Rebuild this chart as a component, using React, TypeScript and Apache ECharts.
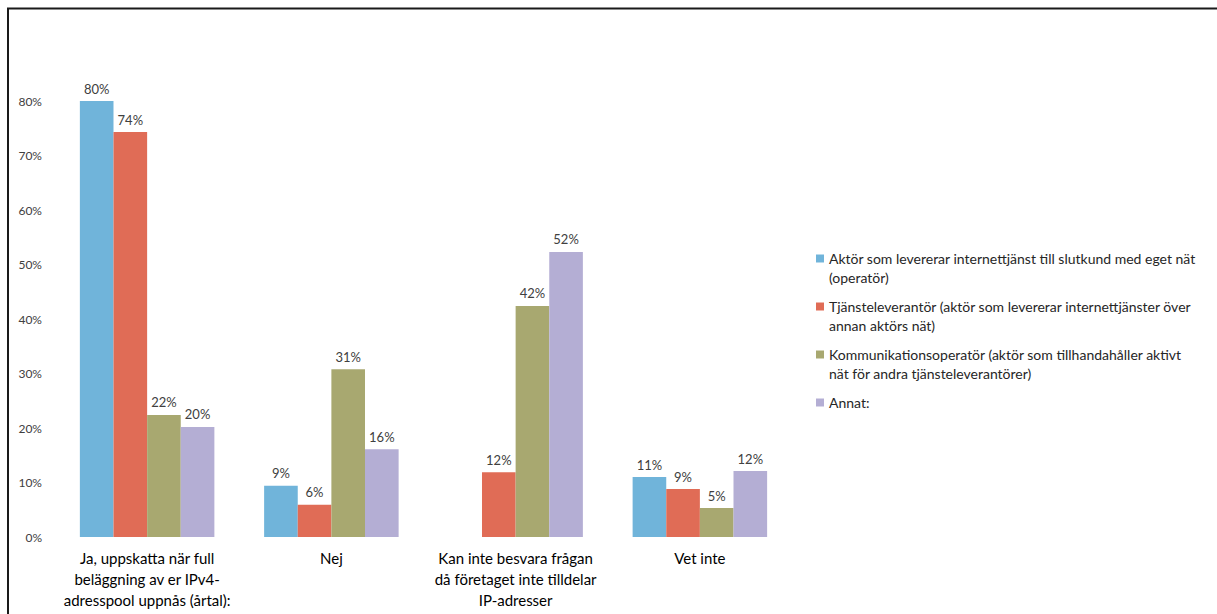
import React, { useEffect, useRef } from "react";
import * as echarts from "echarts";

const categories = [
  "Ja, uppskatta när full\nbeläggning av er IPv4-\nadresspool uppnås (årtal):",
  "Nej",
  "Kan inte besvara frågan\ndå företaget inte tilldelar\nIP-adresser",
  "Vet inte",
];

const seriesNames = [
  "Aktör som levererar internettjänst till slutkund med eget nät\n(operatör)",
  "Tjänsteleverantör (aktör som levererar internettjänster över\nannan aktörs nät)",
  "Kommunikationsoperatör (aktör som tillhandahåller aktivt\nnät för andra tjänsteleverantörer)",
  "Annat:",
];

const operatorValues = [0.8, 0.094, null, 0.11];
const providerValues = [0.743, 0.059, 0.119, 0.088];
const commOperatorValues = [0.224, 0.308, 0.424, 0.053];
const otherValues = [0.202, 0.161, 0.523, 0.121];

const colors = ["#70B4DA", "#E06C56", "#A8A870", "#B4AED4"];

export default function App() {
  const ref = useRef<HTMLDivElement>(null);

  useEffect(() => {
    if (!ref.current) return;
    const chart = echarts.init(ref.current, null, { renderer: "svg" });
    const font = "Lato, 'Open Sans', sans-serif";
    const allValues = [operatorValues, providerValues, commOperatorValues, otherValues];
    const series = allValues.map((vals, i) => ({
      name: seriesNames[i],
      type: "bar",
      data: vals,
      barGap: "0%",
      barCategoryGap: "27%",
      itemStyle: { color: colors[i] },
      label: {
        show: true,
        position: "top",
        distance: 6,
        fontFamily: font,
        fontSize: 13,
        color: "#404040",
        formatter: (p: any) => (p.value == null ? "" : Math.round(p.value * 100) + "%"),
      },
    }));

    chart.setOption({
      animation: false,
      backgroundColor: "#ffffff",
      textStyle: { fontFamily: font },
      grid: { left: 55, right: 1217 - 792, top: 101, bottom: 614 - 537, containLabel: false },
      legend: {
        orient: "vertical",
        left: 816,
        top: 230,
        padding: 0,
        itemGap: -9,
        itemWidth: 8,
        itemHeight: 8,
        icon: "rect",
        selectedMode: false,
        textStyle: { fontFamily: font, fontSize: 14, color: "#262626", lineHeight: 19 },
        formatter: (name: string) =>
          name.indexOf("\n") >= 0 ? "\n" + name : "\n" + name + "\n ",
        data: seriesNames,
      },
      xAxis: {
        type: "category",
        data: categories,
        axisLine: { show: false },
        axisTick: { show: false },
        axisLabel: {
          interval: 0,
          margin: 10,
          fontFamily: font,
          fontSize: 15,
          lineHeight: 21,
          color: "#000000",
        },
      },
      yAxis: {
        type: "value",
        min: 0,
        max: 0.8,
        interval: 0.1,
        splitLine: { show: false },
        axisLine: { show: false },
        axisTick: { show: false },
        axisLabel: {
          margin: 13,
          fontFamily: font,
          fontSize: 12,
          color: "#404040",
          formatter: (v: number) => Math.round(v * 100) + "%",
        },
      },
      graphic: [
        {
          type: "rect",
          shape: { x: 8, y: 8.5, width: 1400, height: 800 },
          style: { fill: "none", stroke: "#1a1a1a", lineWidth: 2 },
          silent: true,
        },
      ],
      series,
    });
    return () => chart.dispose();
  }, []);

  return (
    <div
      ref={ref}
      style={{ position: "absolute", left: 0, top: 0, width: 1217, height: 614 }}
    />
  );
}
